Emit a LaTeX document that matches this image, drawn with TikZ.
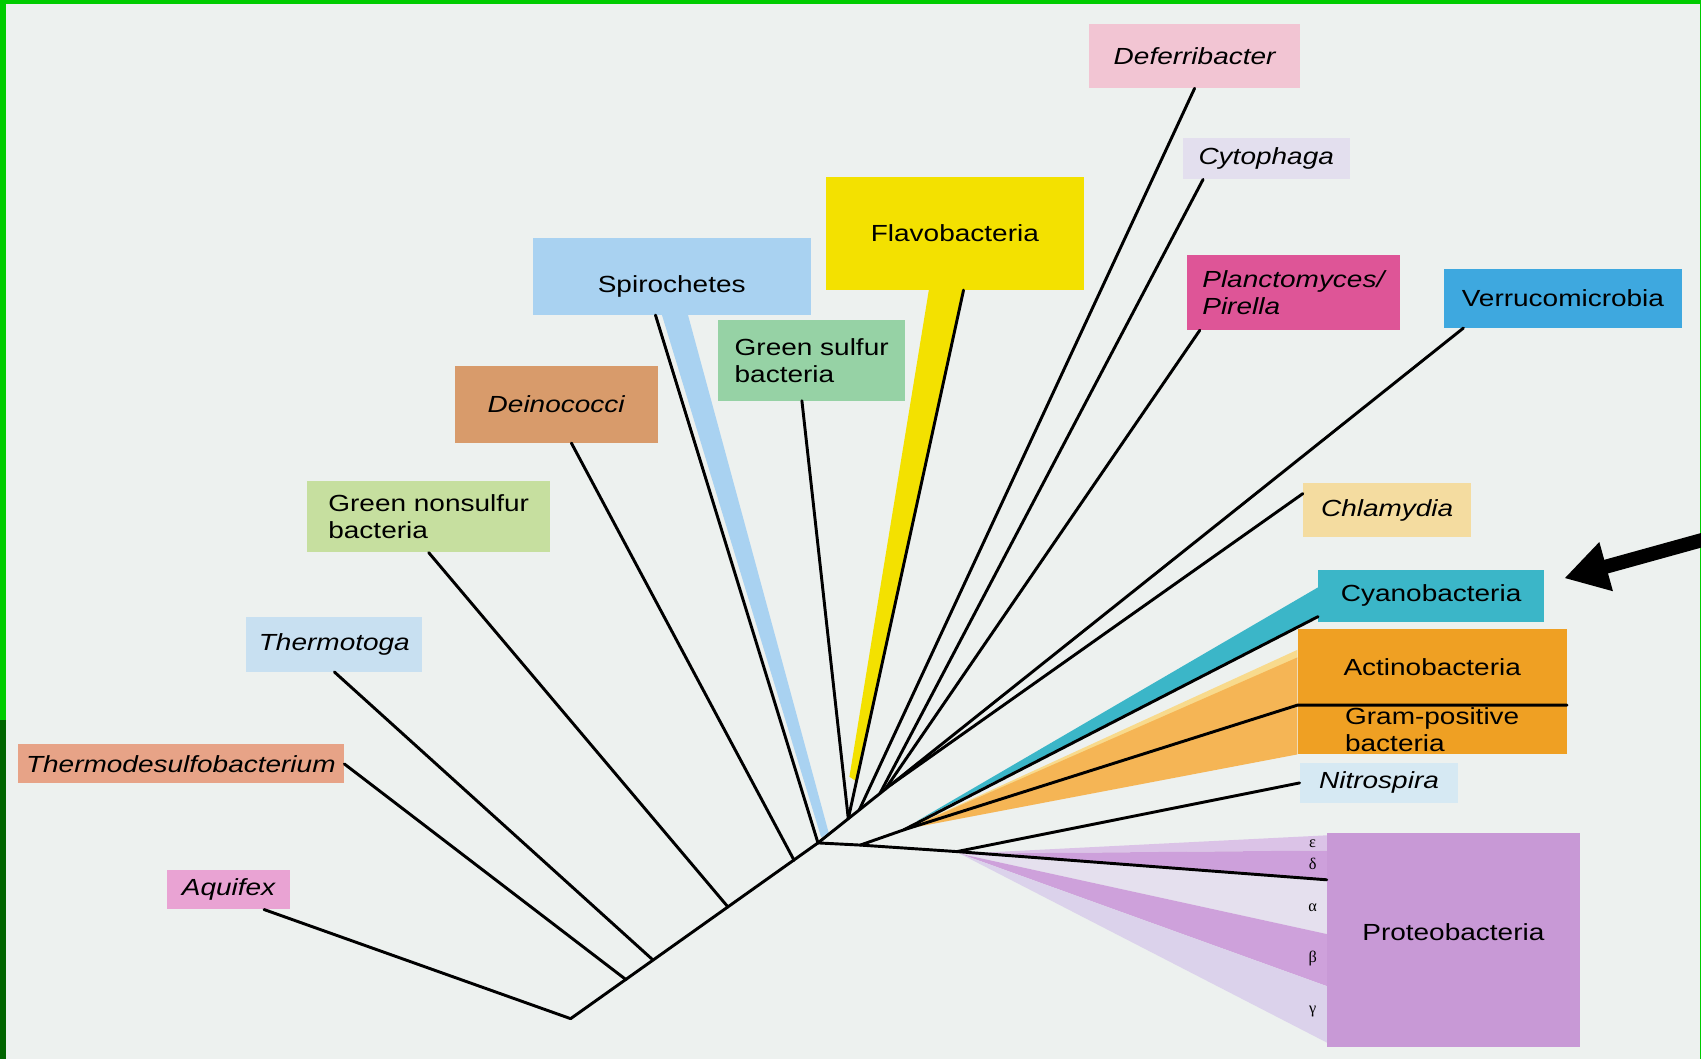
\documentclass[tikz,border=0pt]{standalone}
\usepackage{fontspec}
\setmainfont{Liberation Sans}[FakeStretch=1.2]
\newfontfamily\greekfont{Liberation Serif}
\usetikzlibrary{calc, arrows.meta}

\definecolor{paper}{HTML}{EDF1EF}
\definecolor{framegreen}{HTML}{00CC00}
\definecolor{framedark}{HTML}{006400}
\definecolor{cdefer}{HTML}{F2C5D3}
\definecolor{ccyto}{HTML}{E3DFEE}
\definecolor{cflavo}{HTML}{F3E100}
\definecolor{cplancto}{HTML}{DE5597}
\definecolor{cverruco}{HTML}{3EA8DF}
\definecolor{cspiro}{HTML}{A9D2F1}
\definecolor{cgsulfur}{HTML}{96D2A5}
\definecolor{cdeino}{HTML}{D89B6B}
\definecolor{cgnonsulfur}{HTML}{C6DF9F}
\definecolor{cchlamy}{HTML}{F4DCA0}
\definecolor{ccyano}{HTML}{3BB6C8}
\definecolor{cactino}{HTML}{EFA023}
\definecolor{cactiband}{HTML}{F5B555}
\definecolor{csliver}{HTML}{F8DA8C}
\definecolor{cnitro}{HTML}{D6E9F3}
\definecolor{cproteo}{HTML}{C899D6}
\definecolor{cthermotoga}{HTML}{C8E0F1}
\definecolor{cthermodesulfo}{HTML}{E7A387}
\definecolor{caquifex}{HTML}{E9A3D3}
\definecolor{cepsilon}{HTML}{DBC3E7}
\definecolor{cdelta}{HTML}{CDA0DB}
\definecolor{calpha}{HTML}{E5E0EE}
\definecolor{cbeta}{HTML}{CEA1DB}
\definecolor{cgamma}{HTML}{DBD2EB}

\begin{document}
\begin{tikzpicture}[x=1pt, y=-1pt,
    taxon/.style={rectangle, anchor=north west, inner sep=0pt, align=left,
        font=\fontsize{21.5pt}{25pt}\selectfont},
    taxit/.style={taxon, font=\fontsize{21.5pt}{25pt}\selectfont\itshape},
    limb/.style={line width=2.7pt, line cap=round, line join=round},
    greek/.style={inner sep=0pt, font=\greekfont\fontsize{15pt}{15pt}\selectfont}]
    \useasboundingbox (0,0) rectangle (1568,976);
    % background and frame
    \fill[paper] (0,0) rectangle (1568,976);
    \fill[framegreen] (0,0) rectangle (1568,3.7);
    \fill[framegreen] (0,0) rectangle (5.5,664);
    \fill[framedark] (0,664) rectangle (5.5,976);
    \fill[framegreen] (1566.8,0) rectangle (1568,976);

    % boxes
    \node[taxit, fill=cdefer, minimum width=194pt, minimum height=59pt] (defer) at (1004,22) {Deferribacter};
    \node[taxit, fill=ccyto, minimum width=154pt, minimum height=38pt] (cyto) at (1090,127) {Cytophaga};
    \node[taxon, fill=cflavo, minimum width=238pt, minimum height=104pt] (flavo) at (761,163) {Flavobacteria};
    \node[taxit, fill=cplancto, minimum width=196pt, minimum height=69pt] (plancto) at (1094,235) {Planctomyces/\\Pirella};
    \node[taxon, fill=cverruco, minimum width=219pt, minimum height=54pt] (verruco) at (1331,248) {Verrucomicrobia};
    \node[taxon, fill=cspiro, minimum width=256pt, minimum height=71pt, text height=35pt, text depth=4.5pt] (spiro) at (491,219) {Spirochetes};
    \node[taxon, fill=cgsulfur, minimum width=172pt, minimum height=74pt] (gsulfur) at (662,295) {Green sulfur\\bacteria};
    \node[taxit, fill=cdeino, minimum width=187pt, minimum height=71pt] (deino) at (419,337) {Deinococci};
    \node[taxon, fill=cgnonsulfur, minimum width=224pt, minimum height=66pt] (gnonsulfur) at (283,443) {Green nonsulfur\\bacteria};
    \node[taxit, fill=cchlamy, minimum width=155pt, minimum height=50pt] (chlamy) at (1201,445) {Chlamydia};
    \node[taxon, fill=ccyano, minimum width=208pt, minimum height=48pt] (cyano) at (1215,525) {Cyanobacteria};
    \node[taxon, fill=cactino, minimum width=248pt, minimum height=70pt] (actino) at (1196,580) {Actinobacteria};
    \node[taxon, fill=cactino, minimum width=248pt, minimum height=45pt] (gram) at (1196,650) {Gram-positive\\bacteria};
    \node[taxit, fill=cnitro, minimum width=146pt, minimum height=37pt] (nitro) at (1198,703) {Nitrospira};
    \node[taxon, fill=cproteo, minimum width=233pt, minimum height=197pt, text height=8pt, text depth=8pt] (proteo) at (1223,768) {Proteobacteria};
    \node[taxit, fill=cthermotoga, minimum width=162pt, minimum height=50pt] (thermotoga) at (227,569) {Thermotoga};
    \node[taxit, fill=cthermodesulfo, minimum width=301pt, minimum height=36pt] (thermodesulfo) at (16,686) {Thermodesulfobacterium};
    \node[taxit, fill=caquifex, minimum width=113pt, minimum height=36pt] (aquifex) at (154,802) {Aquifex};

    % tree points
    \coordinate (root) at (526,939);
    \coordinate (jthermodesulfo) at (577,903);
    \coordinate (jthermotoga) at (602,885);
    \coordinate (jnonsulfur) at (671,836);
    \coordinate (jdeino) at (732,793);
    \coordinate (hub) at (754,777);
    \coordinate (verrucofoot) at ($(verruco.south west)+(18,0)$);
    \coordinate (jflavo) at ($(hub)!0.047!(verrucofoot)$);
    \coordinate (jdefer) at ($(hub)!0.064!(verrucofoot)$);
    \coordinate (jcyto) at ($(hub)!0.096!(verrucofoot)$);
    \coordinate (jplancto) at ($(hub)!0.104!(verrucofoot)$);
    \coordinate (jchlamy) at ($(hub)!0.112!(verrucofoot)$);
    \coordinate (jlow) at (793,779);
    \coordinate (jproteo) at (882,785);
    \coordinate (jgram) at (833,765);
    \coordinate (cyanotip) at (845,757);
    \coordinate (actitip) at (836,764);
    \coordinate (proteotip) at (885,787);

    % coloured wedges
    \fill[cspiro] ($(spiro.south)+(-9,0)$) -- ($(spiro.south)+(15,0)$) -- (764,768) -- (757,772) -- cycle;
    \fill[cflavo] ($(flavo.south)+(-24,0)$) -- ($(flavo.south)+(8,0)$) -- (789,720) -- (783,716) -- cycle;
    \fill[ccyano] (cyanotip) -- ($(cyano.south west)+(0,-32)$) -- ($(cyano.south west)+(0,-5)$) -- cycle;
    \fill[csliver] (actitip) -- ($(actino.north west)+(0,19)$) -- ($(actino.north west)+(0,27)$) -- cycle;
    \fill[cactiband] (actitip) -- ($(actino.north west)+(0,26)$) -- (gram.south west) -- cycle;
    \foreach \ya/\yb/\bandcol in {2/16/cepsilon, 16/42/cdelta, 43/93/calpha, 93/141/cbeta, 141/193/cgamma}
        \fill[\bandcol] (proteotip) -- ($(proteo.north west)+(0,\ya)$) -- ($(proteo.north west)+(0,\yb)$) -- cycle;

    % branches
    \draw[limb] (root) -- (hub) -- (verrucofoot);
    \draw[limb] ($(aquifex.south east)+(-24,0)$) -- (root);
    \draw[limb] (thermodesulfo.east) -- (jthermodesulfo);
    \draw[limb] (thermotoga.south) -- (jthermotoga);
    \draw[limb] (gnonsulfur.south) -- (jnonsulfur);
    \draw[limb] ($(deino.south)+(14,0)$) -- (jdeino);
    \draw[limb] ($(spiro.south)+(-15,0)$) -- (hub);
    \draw[limb] ($(gsulfur.south)+(-9,0)$) -- (jflavo);
    \draw[limb] ($(flavo.south)+(8,0)$) -- (jflavo);
    \draw[limb] (defer.south) -- (jdefer);
    \draw[limb] ($(cyto.south west)+(19,0)$) -- (jcyto);
    \draw[limb] ($(plancto.south west)+(12,0)$) -- (jplancto);
    \draw[limb] ($(chlamy.north west)+(0,10)$) -- (jchlamy);
    \draw[limb] (hub) -- (jlow) -- (jproteo) -- ($(proteo.north west)+(0,43)$);
    \draw[limb] (jproteo) -- (nitro.west);
    \draw[limb] (jlow) -- (jgram) -- ($(cyano.south west)+(0,-5)$);
    \draw[limb] (jgram) -- (gram.north west) -- (gram.north east);

    % greek letters
    \foreach \g/\y/\n in {ε/778/leps, δ/796/ldel, α/837/lalp, β/884/lbet, γ/932/lgam}
        \node[greek] (\n) at (1210,\y) {\g};

    % pointer
    \coordinate (arrowtail) at (1590,492);
    \coordinate (arrowtip) at (1442,533);
    \draw[line width=13pt, -{Triangle[length=40pt,width=44pt]}] (arrowtail) -- (arrowtip);
\end{tikzpicture}
\end{document}
